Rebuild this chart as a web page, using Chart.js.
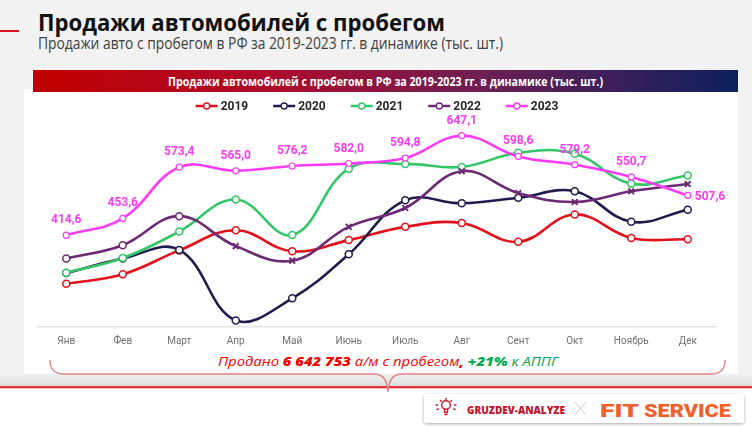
<!DOCTYPE html>
<html>
<head>
<meta charset="utf-8">
<script src="https://cdn.jsdelivr.net/npm/chart.js@4.4.1/dist/chart.umd.min.js"></script>
<style>
  html, body { margin: 0; padding: 0; }
  body { width: 752px; height: 428px; position: relative; overflow: hidden; background: #fff; font-family: 'Open Sans', sans-serif; }
  #bg { position: absolute; left: 0; top: 0; }
  #box { position: absolute; left: 24px; top: 92px; width: 714px; height: 263px; }
</style>
</head>
<body>
<svg id="bg" width="752" height="428" xmlns="http://www.w3.org/2000/svg">
  <defs>
    <linearGradient id="head" x1="0" x2="1" y1="0" y2="0">
      <stop offset="0" stop-color="#c00000"/>
      <stop offset="0.35" stop-color="#ac0c2c"/>
      <stop offset="0.65" stop-color="#6a1f55"/>
      <stop offset="1" stop-color="#0b205e"/>
    </linearGradient>
    <linearGradient id="shade" x1="0" x2="0" y1="0" y2="1">
      <stop offset="0" stop-color="#f1f1f1"/>
      <stop offset="1" stop-color="#dedede"/>
    </linearGradient>
    <filter id="sh" x="-5%" y="-30%" width="110%" height="160%">
      <feDropShadow dx="0" dy="1" stdDeviation="1.5" flood-color="#000" flood-opacity="0.35"/>
    </filter>
  </defs>
  <rect x="0" y="0" width="752" height="386" fill="#f2f2f2"/>
  <rect x="0" y="374" width="752" height="12" fill="url(#shade)"/>
  <rect x="0" y="386" width="752" height="2" fill="#e0363f"/>
  <rect x="0" y="388" width="752" height="1" fill="#f3b5b8"/>
  <rect x="0" y="30" width="19" height="2" fill="#d8141e"/>

  <text x="38" y="30.5" font-family="Open Sans" font-weight="700" font-size="24" fill="#111" textLength="407" lengthAdjust="spacingAndGlyphs">Продажи автомобилей с пробегом</text>
  <text x="38" y="49.3" font-family="Open Sans" font-size="16" fill="#404040" textLength="465" lengthAdjust="spacingAndGlyphs">Продажи авто с пробегом в РФ за 2019-2023 гг. в динамике (тыс. шт.)</text>

  <rect x="24" y="89" width="714" height="285" fill="#fff"/>
  <rect x="33" y="70" width="705" height="22" fill="url(#head)"/>
  <text x="385.5" y="85.5" text-anchor="middle" font-family="Open Sans" font-weight="700" font-size="11.5" fill="#fff" textLength="435" lengthAdjust="spacingAndGlyphs">Продажи автомобилей с пробегом в РФ за 2019-2023 гг. в динамике (тыс. шт.)</text>

  <text x="388" y="365.7" text-anchor="middle" font-family="Open Sans" font-style="italic" font-size="13" textLength="340" lengthAdjust="spacingAndGlyphs"><tspan fill="#f00000">Продано </tspan><tspan fill="#f00000" font-weight="800">6 642 753</tspan><tspan fill="#f00000"> а/м с пробегом</tspan><tspan fill="#f00000" font-weight="800">,</tspan><tspan fill="#00a850" font-weight="800"> +21%</tspan><tspan fill="#00a850"> к АППГ</tspan></text>
  <path d="M50,360 Q50,374 64,374 L374,374 Q387,374 388,392 Q389,374 402,374 L711,374 Q725,374 725,360" fill="none" stroke="#e27d82" stroke-width="1.3"/>

  <rect x="424" y="394" width="320" height="29" rx="3" fill="#fff" filter="url(#sh)"/>
  <g stroke="#d0182f" stroke-width="1.4" fill="none" stroke-linecap="round">
    <circle cx="446" cy="405" r="4.3"/>
    <path d="M444.5,409.5 L444.5,412.5 L447.5,412.5 L447.5,409.5 M445,414.5 L447,414.5"/>
    <path d="M446,398.5 L446,399.5 M440.5,400.5 L441.2,401.2 M451.5,400.5 L450.8,401.2 M436,405 L437.5,405 M454.5,405 L456,405 M437,409.5 L438.3,409 M455,409.5 L453.7,409"/>
  </g>
  <text x="467" y="413.5" font-family="Open Sans" font-weight="800" font-size="10" fill="#c5122b" textLength="98" lengthAdjust="spacingAndGlyphs">GRUZDEV-ANALYZE</text>
  <path d="M575,402 L586,415 M586,402 L575,415" stroke="#c4c4c4" stroke-width="0.9"/>
  <text x="600" y="416.7" font-family="Roboto" font-weight="900" font-size="17.5" fill="#f1602a" textLength="39" lengthAdjust="spacingAndGlyphs">FIT</text>
  <text x="644" y="416.7" font-family="Roboto" font-weight="900" font-size="17.5" fill="#f1602a" textLength="87" lengthAdjust="spacingAndGlyphs">SERVICE</text>
</svg>

<div id="box"><canvas id="salesChart"></canvas></div>

<script>
// месяцы и продажи (тыс. шт.)
const months = ['Янв', 'Фев', 'Март', 'Апр', 'Май', 'Июнь', 'Июль', 'Авг', 'Сент', 'Окт', 'Ноябрь', 'Дек'];
const sales2019 = [301, 323, 379, 426, 377, 403, 434, 443, 399, 463, 408, 405];
const sales2020 = [326, 360, 380, 215, 267, 370, 496, 489, 502, 517, 446, 474];
const sales2021 = [327, 361, 423, 498, 415, 570, 581, 574, 607, 605, 535, 554];
const sales2022 = [360, 391, 459, 389, 355, 434, 478, 564, 513, 492, 517, 534];
const sales2023 = [414.6, 453.6, 573.4, 565.0, 576.2, 582.0, 594.8, 647.1, 598.6, 579.2, 550.7, 507.6];

const seriesNames = ['2019', '2020', '2021', '2022', '2023'];
const seriesColors = ['#e3101b', '#1f1c4c', '#34c668', '#6c2a74', '#fb3cf4'];

function makeSeries(i, values) {
  return {
    label: seriesNames[i],
    data: values,
    borderColor: seriesColors[i],
    backgroundColor: seriesColors[i],
    borderWidth: 2.6,
    tension: 0.4,
    pointRadius: 3.5,
    pointBorderWidth: 1.5,
    pointBackgroundColor: '#fff',
    pointBorderColor: seriesColors[i],
    order: 5 - i
  };
}

const ds2022 = makeSeries(3, sales2022);
ds2022.pointStyle = sales2022.map((v, j) => j < 3 ? 'circle' : 'crossRot');
ds2022.pointRadius = sales2022.map((v, j) => j < 3 ? 3.5 : 4);
ds2022.pointBorderWidth = sales2022.map((v, j) => j < 3 ? 1.5 : 2);

const ds2023 = makeSeries(4, sales2023);
ds2023.pointRadius = 3;
ds2023.pointBorderWidth = 1.2;
ds2023.showValues = true;

// легенда одной строкой над графиком
const legendRow = {
  id: 'legendRow',
  afterDraw(chart) {
    const ctx = chart.ctx;
    const sets = chart.data.datasets;
    const markW = 22, gap = 3, spacing = 25, y = 14;
    ctx.save();
    ctx.font = 'bold 12px Roboto';
    const widths = sets.map(d => markW + gap + ctx.measureText(d.label).width);
    const total = widths.reduce((a, b) => a + b, 0) + spacing * (sets.length - 1);
    let x = (chart.chartArea.left + chart.chartArea.right) / 2 - total / 2;
    sets.forEach((d, i) => {
      ctx.strokeStyle = d.borderColor;
      ctx.lineWidth = 2.5;
      ctx.beginPath(); ctx.moveTo(x, y); ctx.lineTo(x + markW, y); ctx.stroke();
      ctx.fillStyle = '#fff';
      ctx.lineWidth = 1.3;
      ctx.beginPath(); ctx.arc(x + markW / 2, y, 3, 0, Math.PI * 2); ctx.fill(); ctx.stroke();
      ctx.fillStyle = '#262626';
      ctx.textAlign = 'left';
      ctx.textBaseline = 'middle';
      ctx.fillText(d.label, x + markW + gap, y + 1);
      x += widths[i] + spacing;
    });
    ctx.restore();
  }
};

// подписи значений 2023
const valueLabels = {
  id: 'valueLabels',
  afterDatasetsDraw(chart) {
    const ctx = chart.ctx;
    chart.data.datasets.forEach((d, i) => {
      if (!d.showValues) return;
      const meta = chart.getDatasetMeta(i);
      ctx.save();
      ctx.font = 'bold 12px Roboto';
      ctx.fillStyle = d.borderColor;
      ctx.textBaseline = 'middle';
      meta.data.forEach((pt, j) => {
        const txt = d.data[j].toFixed(1).replace('.', ',');
        const last = j === d.data.length - 1;
        ctx.textAlign = last ? 'left' : 'center';
        ctx.fillText(txt, last ? pt.x + 7 : pt.x, last ? pt.y + 2 : pt.y - 15);
      });
      ctx.restore();
    });
  }
};

new Chart(document.getElementById('salesChart'), {
  type: 'line',
  data: {
    labels: months,
    datasets: [
      makeSeries(0, sales2019),
      makeSeries(1, sales2020),
      makeSeries(2, sales2021),
      ds2022,
      ds2023
    ]
  },
  options: {
    animation: false,
    responsive: true,
    maintainAspectRatio: false,
    events: [],
    layout: { padding: { left: 14, right: 22, top: 21, bottom: 0 } },
    plugins: {
      legend: { display: false },
      tooltip: { enabled: false }
    },
    scales: {
      x: {
        offset: true,
        grid: { display: false, drawTicks: false },
        border: { display: true, color: '#e3e3e3', width: 1.5 },
        ticks: {
          color: '#707070',
          padding: 8,
          font: { family: 'Roboto', size: 10 }
        }
      },
      y: {
        display: false,
        min: 200,
        max: 700
      }
    }
  },
  plugins: [legendRow, valueLabels]
});
</script>
</body>
</html>
